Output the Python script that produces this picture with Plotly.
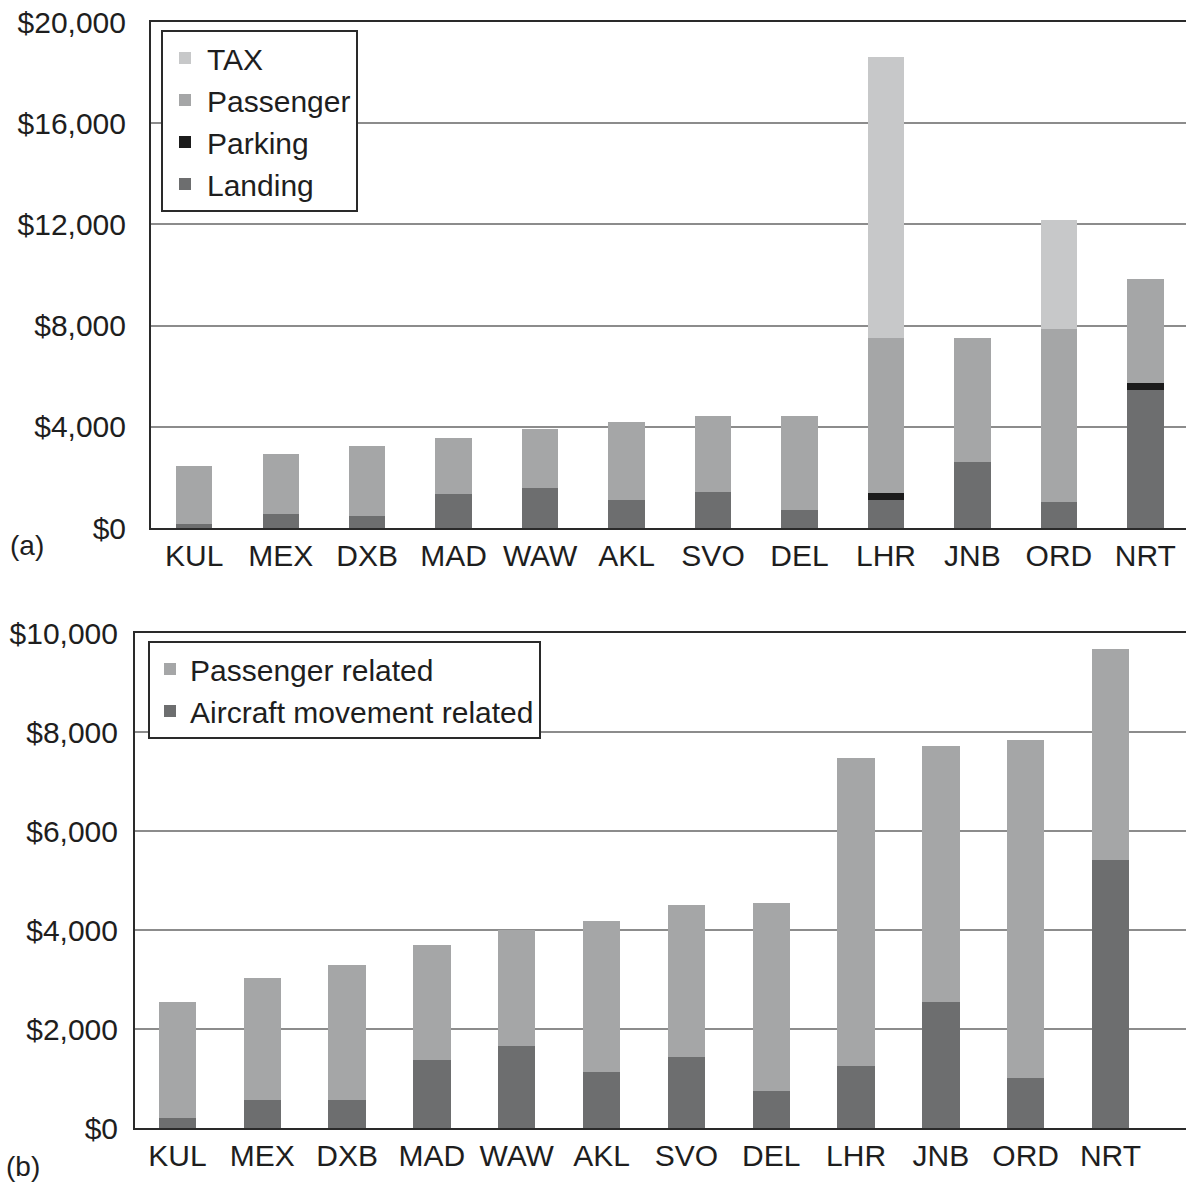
import plotly.graph_objects as go

airports = ["KUL", "MEX", "DXB", "MAD", "WAW", "AKL", "SVO", "DEL", "LHR", "JNB", "ORD", "NRT"]

# (a) charges by type
landing = [160, 550, 470, 1340, 1580, 1110, 1420, 710, 1100, 2620, 1040, 5450]
parking = [0, 0, 0, 0, 0, 0, 0, 0, 270, 0, 0, 270]
passenger = [2290, 2370, 2770, 2220, 2350, 3080, 3010, 3720, 6130, 4900, 6810, 4110]
tax = [0, 0, 0, 0, 0, 0, 0, 0, 11100, 0, 4320, 0]

# (b) charges by driver
aircraft_related = [210, 570, 570, 1380, 1660, 1140, 1430, 740, 1250, 2540, 1010, 5410]
passenger_related = [2340, 2470, 2720, 2310, 2340, 3040, 3070, 3800, 6220, 5170, 6830, 4260]

ticks_a = [0, 4000, 8000, 12000, 16000, 20000]
ticks_b = [0, 2000, 4000, 6000, 8000, 10000]

W, H = 1186, 1182
FONT = "Liberation Sans, Arial, sans-serif"
TXT = "#1e1e1e"

C_TAX = "#c7c8c9"
C_PAS = "#a5a6a7"
C_PARK = "#1c1c1c"
C_LAND = "#6d6e6f"

fig = go.Figure()

def add(y, name, color, xa, ya, leg, width):
    fig.add_trace(go.Bar(x=airports, y=y, name=name, marker=dict(color=color, line=dict(width=0)),
                         width=width, xaxis=xa, yaxis=ya, legend=leg))

add(landing, "Landing", C_LAND, "x", "y", "legend", 0.42)
add(parking, "Parking", C_PARK, "x", "y", "legend", 0.42)
add(passenger, "Passenger", C_PAS, "x", "y", "legend", 0.42)
add(tax, "TAX", C_TAX, "x", "y", "legend", 0.42)
add(aircraft_related, "Aircraft movement related", C_LAND, "x2", "y2", "legend2", 0.44)
add(passenger_related, "Passenger related", C_PAS, "x2", "y2", "legend2", 0.44)

axis_common = dict(tickfont=dict(family=FONT, size=30, color=TXT), automargin=False)

fig.update_layout(
    width=W, height=H,
    margin=dict(l=0, r=0, t=0, b=0),
    paper_bgcolor="white", plot_bgcolor="white",
    barmode="stack",
    font=dict(family=FONT, size=30, color=TXT),
    xaxis=dict(domain=[151 / W, 1], range=[-0.5, 11.47], showline=True, linecolor="#2a2a2a",
               linewidth=2, mirror=True, showgrid=False, ticks="", ticklabelstandoff=0,
               anchor="y", **axis_common),
    yaxis=dict(domain=[1 - 528 / H, 1 - 22 / H], range=[0, 20000], tickvals=ticks_a,
               ticktext=["$" + f"{v:,}" for v in ticks_a], showline=True, linecolor="#2a2a2a",
               linewidth=2, showgrid=True, gridcolor="#8c8c8c", gridwidth=2, zeroline=False,
               ticks="", ticklabelstandoff=17, anchor="x", **axis_common),
    xaxis2=dict(domain=[135 / W, 1], range=[-0.5, 11.89], showline=True, linecolor="#2a2a2a",
                linewidth=2, mirror=True, showgrid=False, ticks="", ticklabelstandoff=0,
                anchor="y2", **axis_common),
    yaxis2=dict(domain=[1 - 1128 / H, 1 - 633 / H], range=[0, 10000], tickvals=ticks_b,
                ticktext=["$" + f"{v:,}" for v in ticks_b], showline=True, linecolor="#2a2a2a",
                linewidth=2, showgrid=True, gridcolor="#8c8c8c", gridwidth=2, zeroline=False,
                ticks="", ticklabelstandoff=9, anchor="x2", **axis_common),
    legend=dict(x=161 / W, y=1 - 30 / H, xanchor="left", yanchor="top", bgcolor="white",
                bordercolor="#2a2a2a", borderwidth=2, traceorder="reversed", itemwidth=34,
                font=dict(family=FONT, size=30, color=TXT), itemclick=False),
    legend2=dict(x=148 / W, y=1 - 641 / H, xanchor="left", yanchor="top", bgcolor="white",
                 bordercolor="#2a2a2a", borderwidth=2, traceorder="reversed",
                 font=dict(family=FONT, size=30, color=TXT), itemclick=False),
    showlegend=True,
    annotations=[
        dict(text="(a)", x=8 / W, y=1 - 545 / H, xref="paper", yref="paper", xanchor="left",
             yanchor="middle", showarrow=False, font=dict(family=FONT, size=28, color=TXT)),
        dict(text="(b)", x=4 / W, y=1 - 1166 / H, xref="paper", yref="paper", xanchor="left",
             yanchor="middle", showarrow=False, font=dict(family=FONT, size=28, color=TXT)),
    ],
)

fig.write_html("out.html")
